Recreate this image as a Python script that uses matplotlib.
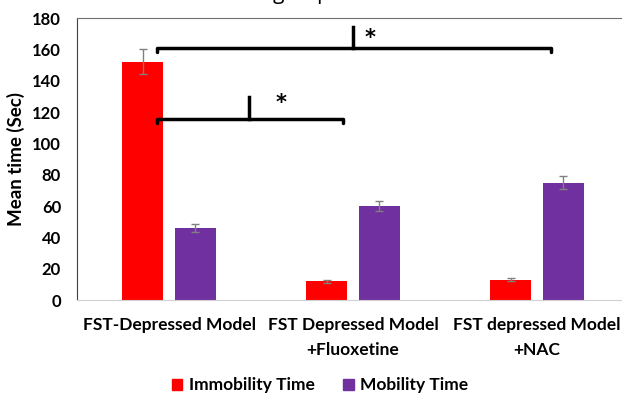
import matplotlib.pyplot as plt
import numpy as np
from matplotlib.patches import Patch

# Groups and series
groups = ['FST-Depressed Model', 'FST Depressed Model\n+Fluoxetine', 'FST depressed Model\n+NAC']
immobility = [152, 12, 13]
immobility_err = [8, 1, 1]
mobility = [46, 60, 75]
mobility_err = [2.5, 3, 4]
yticks = list(range(0, 181, 20))

plt.rcParams['font.family'] = ['Lato', 'DejaVu Sans']

fig = plt.figure(figsize=(6.22, 3.96), dpi=100)
ax = fig.add_axes([0.1238, 0.2424, 0.8875, 0.7121])

x = np.arange(len(groups))
w = 0.22
off = 0.143
err_kw = dict(ecolor='#808080', elinewidth=1, capsize=3, capthick=1)
ax.bar(x - off, immobility, w, yerr=immobility_err, color='#ff0000', error_kw=err_kw, label='Immobility Time')
ax.bar(x + off, mobility, w, yerr=mobility_err, color='#7030a0', error_kw=err_kw, label='Mobility Time')

ax.set_xlim(-0.5, 2.5)
ax.set_ylim(0, 180)
ax.set_yticks(yticks)
ax.set_yticklabels([str(v) for v in yticks], fontsize=12, fontweight='bold')
ax.tick_params(axis='both', length=0)
ax.tick_params(axis='y', pad=11.5)

ax.set_xticks(x)
ax.set_xticklabels(groups, fontsize=12.5, fontweight='bold', linespacing=1.7)
ax.tick_params(axis='x', pad=12)

ax.set_ylabel('Mean time (Sec)', fontsize=13.5, fontweight='bold', labelpad=5)

ax.spines['left'].set_color('#404040')
ax.spines['top'].set_color('#707070')
ax.spines['bottom'].set_color('#d0d0d0')
ax.spines['right'].set_visible(False)

# significance brackets
def bracket(x0, x1, xm, y, h, sx, sy):
    ax.plot([x0, x0, x1, x1], [y - 2.5, y, y, y - 2.5], color='black', lw=2.5,
            solid_capstyle='round', solid_joinstyle='round', clip_on=False)
    ax.plot([xm, xm], [y, y + h], color='black', lw=2.5, clip_on=False)
    ax.text(sx, sy, '*', fontsize=15, fontweight='bold', ha='center', va='center',
            family='DejaVu Sans')

bracket(-0.065, 2.076, 1.0, 161, 13, 1.09, 167)
bracket(-0.065, 0.946, 0.435, 115.5, 14, 0.61, 126)

# title cut off by the top edge, only descenders show
fig.text(0.485, 1.0 + 1 / 396, 'group', fontsize=15, ha='center', va='baseline',
         family=['Open Sans', 'DejaVu Sans'])

handles = [Patch(color='#ff0000', label='Immobility Time'),
           Patch(color='#7030a0', label='Mobility Time')]
fig.legend(handles=handles, loc='center', bbox_to_anchor=(0.515, 0.027), ncol=2,
           frameon=False, prop={'weight': 'bold', 'size': 12.5},
           handlelength=0.6, handleheight=0.6, handletextpad=0.4, columnspacing=1.6)

fig.savefig('out.png', dpi=100)
